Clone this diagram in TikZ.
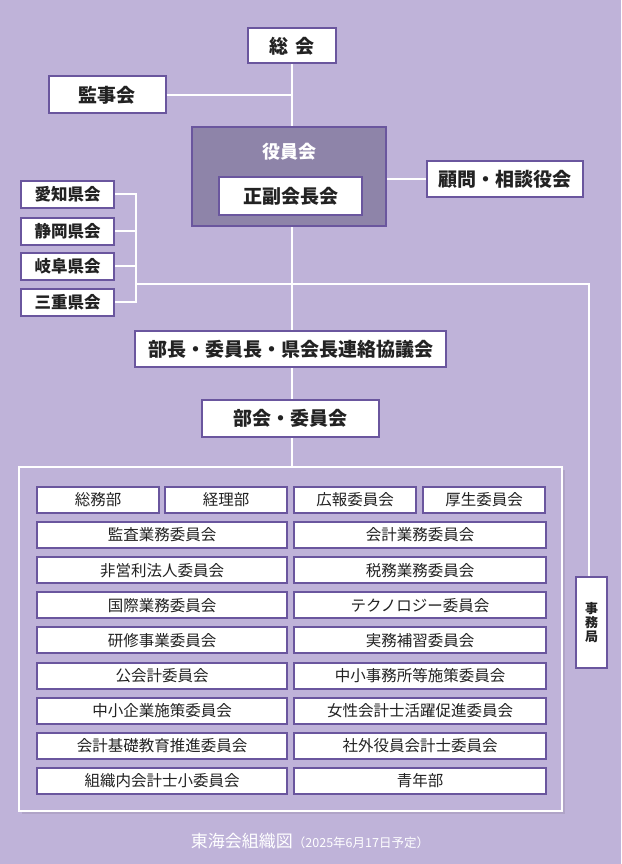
\documentclass[tikz,border=0pt]{standalone}
\usepackage{fontspec}
\setmainfont{Noto Sans CJK JP}
\begin{document}
\begin{tikzpicture}[x=1pt,y=-1pt,
  bx/.style={draw=bord,line width=2pt,fill=white,inner sep=0pt,text=txt},
  ln/.style={draw=white,line width=1.3pt},
  big/.style={font=\fontsize{19}{19}\selectfont\bfseries},
  mid/.style={font=\fontsize{16.5}{17}\selectfont\bfseries},
  sm/.style={font=\fontsize{15.5}{16}\selectfont}]
\definecolor{bg}{HTML}{BFB3D9}
\definecolor{bord}{HTML}{6A569E}
\definecolor{txt}{HTML}{222222}
\definecolor{dark}{HTML}{8E84A9}
\fill[bg] (0,0) rectangle (621,864);
\useasboundingbox (0,0) rectangle (621,864);
\coordinate (j1) at (292,95);
\coordinate (br) at (136,284);
\coordinate (rc) at (589,284);
\coordinate (ftop) at (292,467);
% nodes
\node[bx,big,minimum width=88,minimum height=35] (sokai) at (292,46) {総\,\,会};
\node[bx,big,minimum width=117,minimum height=37] (kanji) at (107,95) {監事会};
\node[draw=bord,line width=2.5pt,fill=dark,minimum width=194,minimum height=99] (yakuin) at (289,176.5) {};
\node[text=white,font=\fontsize{18}{18}\selectfont\bfseries] (yt) at (289,152) {役員会};
\node[bx,big,minimum width=143,minimum height=38] (seifuku) at (290.5,196) {正副会長会};
\node[bx,big,minimum width=156,minimum height=36] (komon) at (505,179) {顧問・相談役会};
\foreach \n/\t/\y in {a/愛知県会/194,b/静岡県会/231,c/岐阜県会/266,d/三重県会/302}
  \node[bx,mid,minimum width=93,minimum height=27] (\n) at (67.5,\y) {\t};
\node[bx,big,minimum width=311,minimum height=36] (renraku) at (290.5,349) {部長・委員長・県会長連絡協議会};
\node[bx,big,minimum width=177,minimum height=37] (bukai) at (290.5,418.5) {部会・委員会};
\node[bx,font=\fontsize{13}{14}\selectfont\bfseries,minimum width=31,minimum height=91,align=center] (jimu) at (591.5,622.5) {事\\務\\局};
% connectors
\draw[ln] (j1 |- sokai.south) -- (j1 |- yakuin.north);
\draw[ln] (kanji.east) -- (j1);
\draw[ln] (yakuin.east |- komon.west) -- (komon.west);
\draw[ln] (j1 |- yakuin.south) -- (j1 |- renraku.north);
\draw[ln] (j1 |- renraku.south) -- (j1 |- bukai.north);
\draw[ln] (j1 |- bukai.south) -- (ftop);
\draw[ln] (a.east) -| (br) |- (d.east);
\draw[ln] (b.east) -- (b.east -| br);
\draw[ln] (c.east) -- (c.east -| br);
\draw[ln] (br) -- (rc) -- (jimu.north -| rc);
% frame
\fill[black,opacity=0.08] (22,470) rectangle (565,814);
\draw[white,line width=1.3pt,fill=bg] (19,467) rectangle (562,811);
\foreach \n/\t/\x in {g1/総務部/98,g2/経理部/226,g3/広報委員会/355,g4/厚生委員会/484}
  \node[bx,sm,minimum width=122,minimum height=26] (\n) at (\x,500) {\t};
\foreach \l/\r [count=\i] in {監査業務委員会/会計業務委員会,非営利法人委員会/税務業務委員会,国際業務委員会/テクノロジー委員会,研修事業委員会/実務補習委員会,公会計委員会/中小事務所等施策委員会,中小企業施策委員会/女性会計士活躍促進委員会,会計基礎教育推進委員会/社外役員会計士委員会,組織内会計士小委員会/青年部}{
  \node[bx,sm,minimum width=250,minimum height=26] (L\i) at (162,{500+35.1*\i}) {\l};
  \node[bx,sm,minimum width=252,minimum height=26] (R\i) at (420,{500+35.1*\i}) {\r};
}
\node[text=white,font=\fontsize{17}{17}\selectfont] (cap) at (310,841) {東海会組織図{\fontsize{12.5}{13}\selectfont（2025年6月17日予定）}};
\end{tikzpicture}
\end{document}
